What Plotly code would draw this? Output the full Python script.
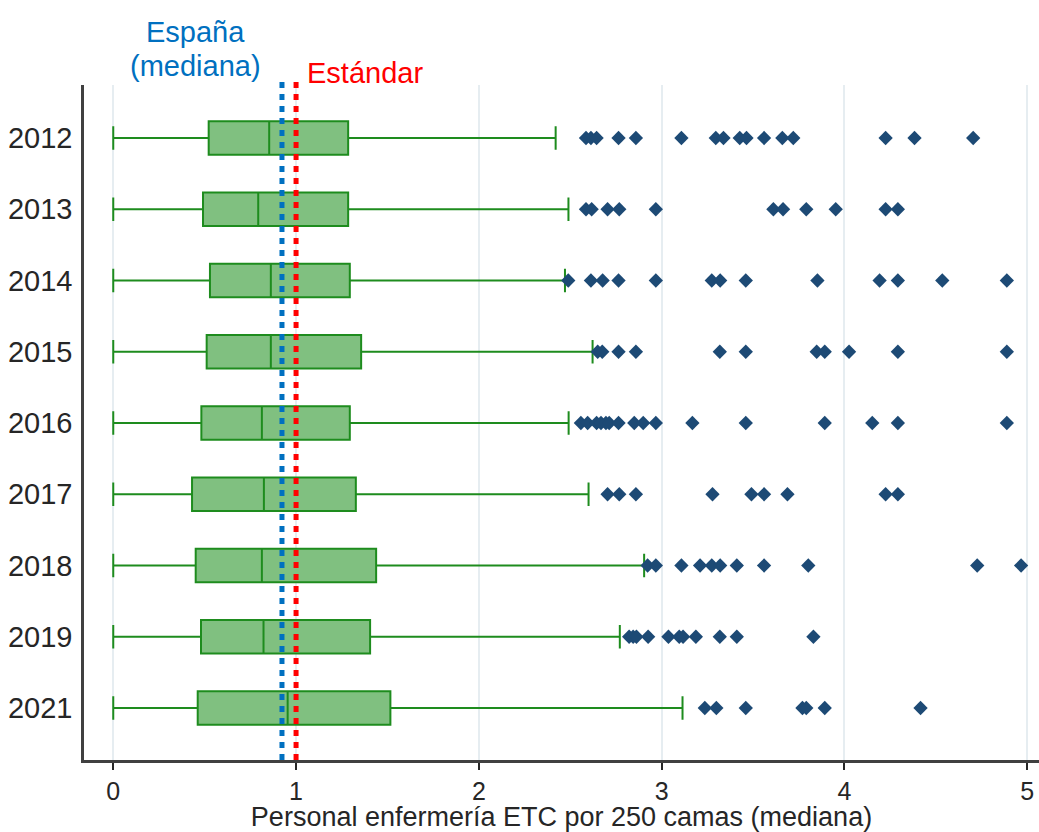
import plotly.graph_objects as go

# ---- data ----
years = ["2012", "2013", "2014", "2015", "2016", "2017", "2018", "2019", "2021"]
lower_whisker = [0, 0, 0, 0, 0, 0, 0, 0, 0]
q1 = [0.522, 0.491, 0.529, 0.511, 0.482, 0.431, 0.451, 0.480, 0.462]
median = [0.853, 0.793, 0.862, 0.862, 0.813, 0.824, 0.813, 0.822, 0.954]
q3 = [1.285, 1.285, 1.294, 1.356, 1.294, 1.327, 1.438, 1.405, 1.516]
upper_whisker = [2.42, 2.49, 2.471, 2.622, 2.491, 2.60, 2.904, 2.771, 3.114]

outliers = {
    "2012": [2.586, 2.613, 2.644, 2.764, 2.859, 3.108, 3.296, 3.338, 3.427, 3.464,
             3.560, 3.660, 3.720, 4.225, 4.383, 4.704],
    "2013": [2.586, 2.617, 2.704, 2.768, 2.968, 3.611, 3.664, 3.791, 3.952, 4.225, 4.292],
    "2014": [2.489, 2.613, 2.677, 2.764, 2.968, 3.274, 3.320, 3.460, 3.852, 4.192,
             4.292, 4.535, 4.888],
    "2015": [2.650, 2.675, 2.764, 2.859, 3.318, 3.460, 3.848, 3.892, 4.025, 4.292, 4.888],
    "2016": [2.558, 2.595, 2.644, 2.668, 2.695, 2.713, 2.764, 2.850, 2.899, 2.968,
             3.168, 3.460, 3.892, 4.152, 4.292, 4.888],
    "2017": [2.704, 2.768, 2.859, 3.278, 3.491, 3.560, 3.688, 4.225, 4.292],
    "2018": [2.923, 2.968, 3.108, 3.210, 3.274, 3.320, 3.411, 3.560, 3.802, 4.726, 4.966],
    "2019": [2.822, 2.844, 2.862, 2.926, 3.037, 3.096, 3.117, 3.187, 3.318, 3.411, 3.830],
    "2021": [3.236, 3.299, 3.460, 3.770, 3.791, 3.892, 4.416],
}

spain_median = 0.923
standard = 1.0

x_ticks = [0, 1, 2, 3, 4, 5]
x_title = "Personal enfermería ETC por 250 camas (mediana)"

FONT = "Arial, Liberation Sans, sans-serif"
BOX_FILL = "#80C080"
BOX_LINE = "#1E8C1E"
OUT_COLOR = "#1D4A75"
BLUE = "#0070C0"
RED = "#FF0000"

fig = go.Figure()
fig.add_trace(go.Box(
    y=years,
    q1=q1, median=median, q3=q3,
    lowerfence=lower_whisker, upperfence=upper_whisker,
    orientation="h",
    fillcolor=BOX_FILL,
    line=dict(color=BOX_LINE, width=2),
    width=0.47,
    whiskerwidth=0.7,
    boxpoints=False,
    hoverinfo="skip",
    showlegend=False,
))

ox, oy = [], []
for yr in years:
    for v in outliers[yr]:
        ox.append(v)
        oy.append(yr)
fig.add_trace(go.Scatter(
    x=ox, y=oy, mode="markers",
    marker=dict(symbol="diamond", size=11, color=OUT_COLOR),
    showlegend=False, hoverinfo="skip",
))

for val, col in [(spain_median, BLUE), (standard, RED)]:
    fig.add_shape(type="line", xref="x", yref="paper",
                  x0=val, x1=val, y0=0, y1=1.008,
                  line=dict(color=col, width=5, dash="6px,6px"), layer="above")

fig.add_annotation(x=0.452, xref="x", y=1.0785, yref="paper", yanchor="middle",
                   text="España", showarrow=False,
                   font=dict(family=FONT, size=29, color=BLUE))
fig.add_annotation(x=0.452, xref="x", y=1.028, yref="paper", yanchor="middle",
                   text="(mediana)", showarrow=False,
                   font=dict(family=FONT, size=29, color=BLUE))
fig.add_annotation(x=1.05, xref="x", xanchor="left", y=1.018, yref="paper",
                   yanchor="middle", text="Estándar", showarrow=False,
                   font=dict(family=FONT, size=29, color=RED))

fig.update_layout(
    width=1039, height=832,
    margin=dict(l=84, r=0, t=85, b=72),
    plot_bgcolor="white", paper_bgcolor="white",
    font=dict(family=FONT, size=29, color="#262626"),
)
fig.update_xaxes(
    range=[-0.160, 5.064],
    tickvals=x_ticks, ticktext=[str(t) for t in x_ticks],
    showgrid=True, gridcolor="#E6EDF1", gridwidth=1.5,
    zeroline=False,
    showline=True, linecolor="#404040", linewidth=2.5,
    ticks="outside", ticklen=7, tickwidth=2, tickcolor="#262626",
    tickfont=dict(size=25),
    title=dict(text=x_title, font=dict(size=27), standoff=5),
)
fig.update_yaxes(
    type="category", categoryorder="array", categoryarray=years,
    range=[8.73, -0.744],
    showgrid=False, zeroline=False,
    showline=True, linecolor="#404040", linewidth=2.5,
    ticks="", ticklabelstandoff=3,
    tickfont=dict(size=29),
)

# remove the page's default body margin so the figure fills the window exactly
fig.write_html("out.html",
               config={"displayModeBar": False},
               post_script="document.body.style.margin='0px';"
                           "document.body.style.overflow='hidden';")
